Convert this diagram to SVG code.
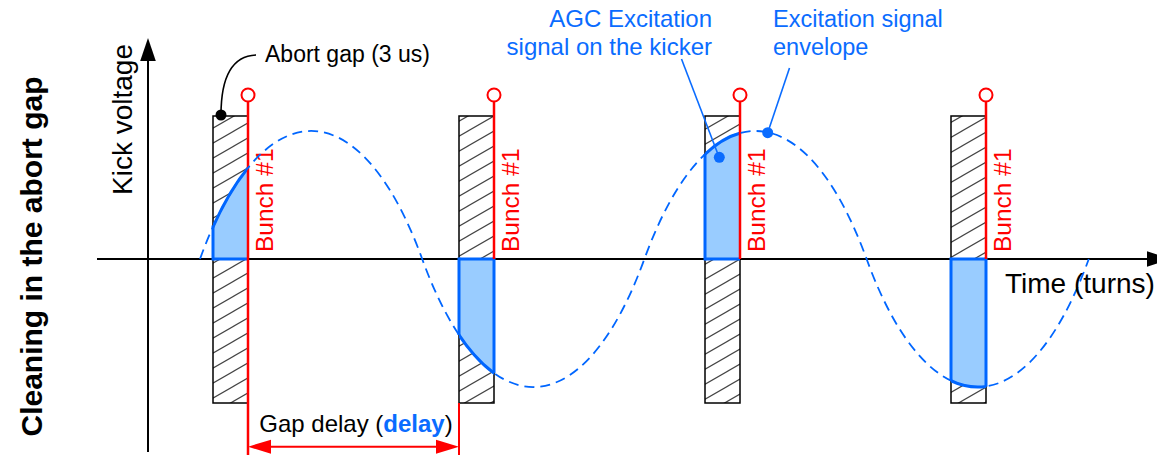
<svg xmlns="http://www.w3.org/2000/svg" width="1157" height="456" viewBox="0 0 1157 456">
<style>
  text { font-family: "Liberation Sans", Arial, sans-serif; }
  .gap { fill: url(#hatch); stroke: #000; stroke-width: 1.5; }
  .shade { fill: #99ccff; stroke: #0066ff; stroke-width: 3; stroke-linejoin: round; }
  .edge { stroke: #0066ff; stroke-width: 3; }
  .bunch { stroke: #ff0000; stroke-width: 2.5; }
  .ring { fill: #fff; stroke: #ff0000; stroke-width: 2; }
  .btxt { fill: #ff0000; font-size: 24.5px; }
  .env { fill: none; stroke: #0066ff; stroke-width: 1.8; stroke-dasharray: 10 6; }
  .blue { fill: #0a6cff; }
  .lead { stroke: #0a6cff; stroke-width: 1.6; fill: none; }
  .axis { stroke: #000; stroke-width: 2; }
  .red { stroke: #ff0000; stroke-width: 2; }
</style>
<defs>
  <pattern id="hatch" patternUnits="userSpaceOnUse" width="26" height="15" x="0" y="116">
    <rect width="26" height="15" fill="#fff"/>
    <path d="M-2,16.15 L28,-1.15 M-2,1.15 L2,-1.15 M24,16.15 L28,13.85" stroke="#444" stroke-width="1.2"/>
  </pattern>
  <clipPath id="c1"><rect x="213" y="0" width="35" height="456"/></clipPath>
  <clipPath id="c2"><rect x="459" y="0" width="35" height="456"/></clipPath>
  <clipPath id="c3"><rect x="705" y="0" width="35" height="456"/></clipPath>
  <clipPath id="c4"><rect x="951" y="0" width="35" height="456"/></clipPath>
</defs>

<g id="axes">
  <line class="axis" x1="148" y1="452" x2="148" y2="58"/>
  <polygon points="148,38 140.2,61 155.8,61" fill="#000"/>
  <line class="axis" x1="97" y1="259" x2="1150" y2="259"/>
  <polygon points="1170,259 1147,251.2 1147,266.8" fill="#000"/>
</g>

<g id="gap1">
  <rect class="gap" x="213" y="116" width="35" height="287"/>
  <path class="shade" clip-path="url(#c1)" d="M200,259 C262,88.3 360.2,88.3 422.2,259 Z"/>
  <line class="edge" x1="213" y1="260.5" x2="213" y2="225.5"/>
  <line class="bunch" x1="248" y1="102" x2="248" y2="455"/>
  <circle class="ring" cx="248" cy="95" r="6.5"/>
  <text class="btxt" transform="translate(273,252) rotate(-90)">Bunch #1</text>
</g>

<g id="gap2">
  <rect class="gap" x="459" y="116" width="35" height="287"/>
  <path class="shade" clip-path="url(#c2)" d="M422.2,259 C484.2,429.7 582.4,429.7 644.4,259 Z"/>
  <line class="edge" x1="459" y1="257.5" x2="459" y2="335"/>
  <line class="edge" x1="494" y1="257.5" x2="494" y2="373"/>
  <line class="bunch" x1="494" y1="102" x2="494" y2="259"/>
  <circle class="ring" cx="494" cy="95" r="6.5"/>
  <text class="btxt" transform="translate(518.5,252) rotate(-90)">Bunch #1</text>
</g>

<g id="gap3">
  <rect class="gap" x="705" y="116" width="35" height="287"/>
  <path class="shade" clip-path="url(#c3)" d="M644.4,259 C706.4,88.3 804.6,88.3 866.6,259 Z"/>
  <line class="edge" x1="705" y1="260.5" x2="705" y2="154"/>
  <line class="bunch" x1="740" y1="102" x2="740" y2="259"/>
  <circle class="ring" cx="740" cy="95" r="6.5"/>
  <text class="btxt" transform="translate(765,252) rotate(-90)">Bunch #1</text>
</g>

<g id="gap4">
  <rect class="gap" x="951" y="116" width="35" height="287"/>
  <path class="shade" clip-path="url(#c4)" d="M866.6,259 C928.6,429.7 1026.8,429.7 1088.8,259 Z"/>
  <line class="edge" x1="951" y1="257.5" x2="951" y2="380.6"/>
  <line class="edge" x1="986" y1="257.5" x2="986" y2="386.7"/>
  <line class="bunch" x1="986" y1="102" x2="986" y2="259"/>
  <circle class="ring" cx="986" cy="95" r="6.5"/>
  <text class="btxt" transform="translate(1011,252) rotate(-90)">Bunch #1</text>
</g>

<g id="envelope">
  <path class="env" d="M200,259 C262,88.3 360.2,88.3 422.2,259 C484.2,429.7 582.4,429.7 644.4,259 C706.4,88.3 804.6,88.3 866.6,259 C928.6,429.7 1026.8,429.7 1088.8,259"/>
</g>

<g id="connectors">
  <path d="M221,115 C221,76 232,56 256,55" fill="none" stroke="#000" stroke-width="1.6"/>
  <circle cx="221" cy="115" r="5.5" fill="#000"/>
  <line class="lead" x1="681.5" y1="59" x2="719" y2="157"/>
  <circle cx="719.3" cy="157.3" r="5.5" class="blue"/>
  <line class="lead" x1="789.5" y1="68" x2="767.7" y2="132.7"/>
  <circle cx="767.7" cy="132.7" r="5.5" class="blue"/>
  <line class="red" x1="459" y1="403" x2="459" y2="455"/>
  <line class="red" x1="265" y1="446.7" x2="442" y2="446.7"/>
  <polygon points="248,446.7 271,439.7 271,453.7" fill="#ff0000"/>
  <polygon points="459,446.7 436,439.7 436,453.7" fill="#ff0000"/>
</g>

<g id="labels">
  <text transform="translate(41.5,256.5) rotate(-90)" text-anchor="middle" font-size="30" font-weight="bold">Cleaning in the abort gap</text>
  <text transform="translate(131.5,119.5) rotate(-90)" text-anchor="middle" font-size="28">Kick voltage</text>
  <text x="1005" y="293" font-size="28">Time (turns)</text>
  <text x="265" y="62" font-size="23">Abort gap (3 us)</text>
  <text class="blue" x="712" y="27" font-size="24" text-anchor="end">AGC Excitation</text>
  <text class="blue" x="712" y="55" font-size="24" text-anchor="end">signal on the kicker</text>
  <text class="blue" x="773" y="27" font-size="23.5">Excitation signal</text>
  <text class="blue" x="773" y="55" font-size="23.5">envelope</text>
  <text x="356" y="432" font-size="24" text-anchor="middle">Gap delay (<tspan class="blue" font-weight="bold">delay</tspan>)</text>
</g>
</svg>
